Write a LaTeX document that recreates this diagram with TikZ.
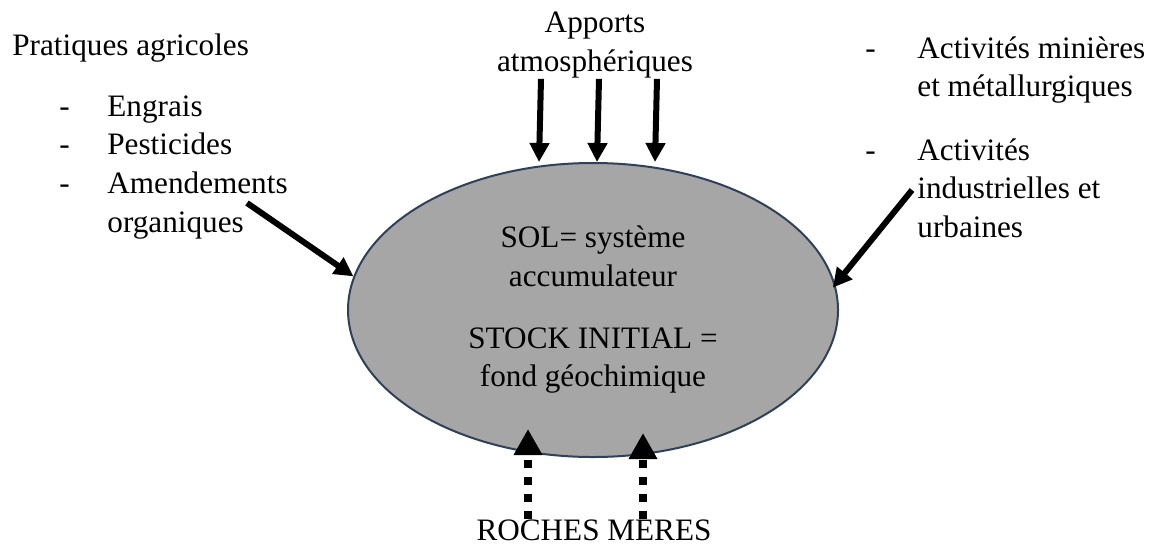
\documentclass[tikz,border=0pt]{standalone}
\usepackage{fontspec}
\setmainfont{Liberation Serif}
\usetikzlibrary{arrows.meta,shapes.geometric}

\definecolor{solgris}{RGB}{166,166,166}
\definecolor{solbord}{RGB}{47,64,88}

\tikzset{
  txt/.style={inner sep=0pt, font=\fontsize{15.6}{19.4}\selectfont},
  fleche/.style={line width=3pt, -{Triangle[width=9.5pt,length=9.5pt]}},
  roche/.style={line width=4pt, dash pattern=on 4pt off 4.5pt,
                -{Triangle[width=13.5pt,length=13pt]}}
}

\begin{document}
\begin{tikzpicture}[x=0.5pt, y=-0.5pt]
    \useasboundingbox (0,0) rectangle (1154,546);
    % sol
    \node[ellipse, draw=solbord, line width=1pt, fill=solgris,
          minimum width=245pt, minimum height=147pt, inner sep=0pt,
          align=center, font=\fontsize{15.6}{19.4}\selectfont] (sol) at (593,310)
      {SOL= système\\accumulateur\\[11.3pt]STOCK INITIAL =\\fond géochimique};
    % pratiques agricoles (base = last line)
    \node[txt, anchor=base west] (agri) at (12,55) {Pratiques agricoles};
    \node[txt, anchor=base west, align=left] (tirets) at (59,193.6) {-\\-\\-};
    \node[txt, anchor=base west, align=left] (items) at (107,232.4)
      {Engrais\\Pesticides\\Amendements\\organiques};
    % apports atmospheriques
    \node[txt, anchor=base, align=center] (apports) at (595,71.8)
      {Apports\\atmosphériques};
    % activites
    \node[txt, anchor=base west] (tiretA) at (865,58) {-};
    \node[txt, anchor=base west, align=left] (mines) at (917,96.8)
      {Activités minières\\et métallurgiques};
    \node[txt, anchor=base west] (tiretB) at (865,160) {-};
    \node[txt, anchor=base west, align=left] (indus) at (917,237.6)
      {Activités\\industrielles et\\urbaines};
    % roches meres
    \node[txt, anchor=base] (roches) at (594,540) {ROCHES MERES};
    % arrows
    \foreach \dx in {-27,2,31}{%
      \draw[fleche] ([xshift=\dx pt]apports.south) -- ([xshift=\dx pt]sol.north);}
    \coordinate (agriA) at (247,203);
    \coordinate (indusA) at (912,190);
    \draw[fleche] (agriA) -- (sol.172.6);
    \draw[fleche, shorten >=-2pt] (indusA) -- (sol.6.3);
    \draw[roche] ([xshift=-33pt]roches.north) -- ([xshift=-32.5pt,yshift=14.5pt]sol.south);
    \draw[roche] ([xshift=24.5pt]roches.north) -- ([xshift=25pt,yshift=12.5pt]sol.south);
\end{tikzpicture}
\end{document}
